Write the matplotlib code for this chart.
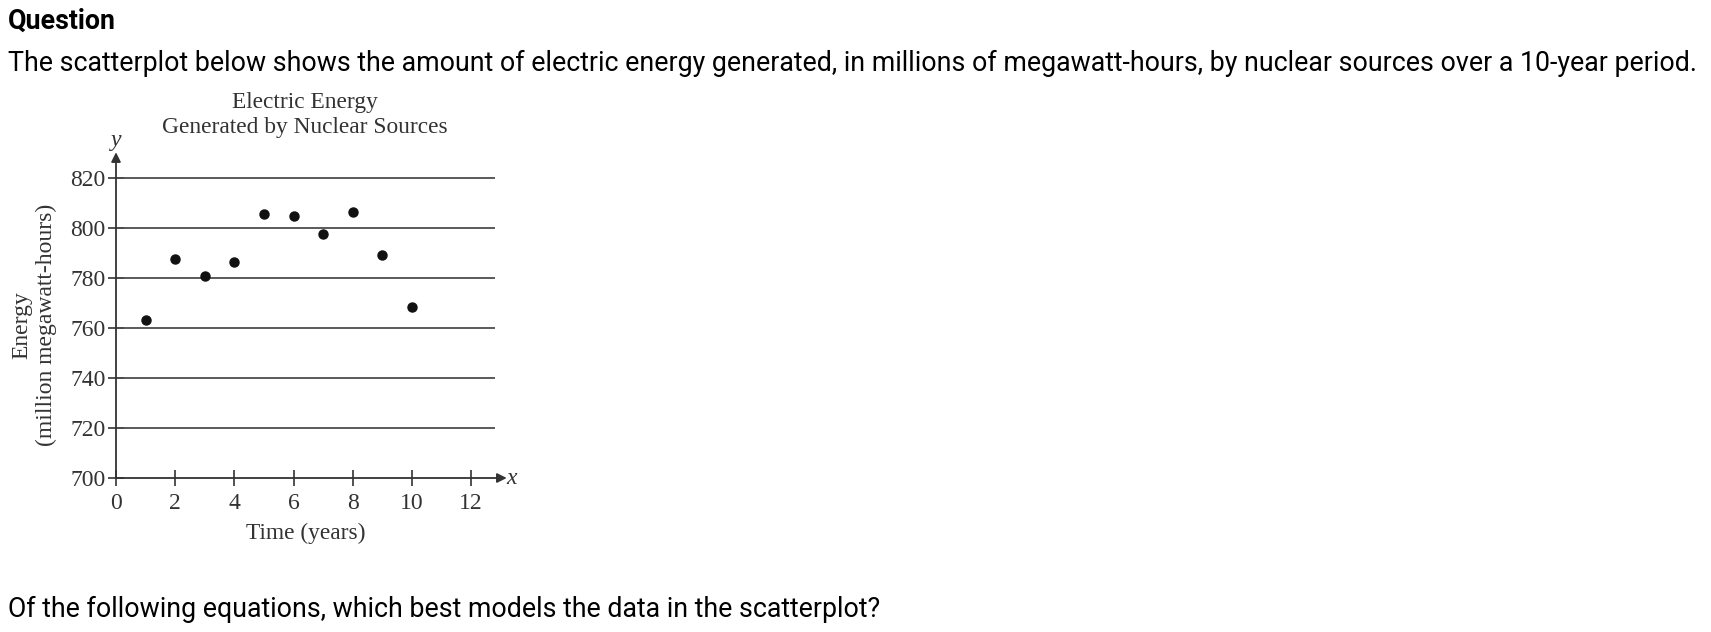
import numpy as np
import matplotlib.pyplot as plt

years = [1, 2, 3, 4, 5, 6, 7, 8, 9, 10]
energy = [763.3, 787.7, 780.9, 786.4, 805.6, 804.9, 797.5, 806.3, 789.1, 768.4]
x_ticks = [0, 2, 4, 6, 8, 10, 12]
y_ticks = [700, 720, 740, 760, 780, 800, 820]

W, H = 1711, 632
fig = plt.figure(figsize=(W / 100, H / 100), dpi=100)


def fx(px):
    return px / W


def fy(py):
    return 1 - py / H


# question text around the chart
fig.text(fx(8), fy(21), "Question", family="Roboto", weight="bold",
         fontsize=19.3, va="center", ha="left", color="black")
fig.text(fx(8), fy(63), "The scatterplot below shows the amount of electric energy generated, "
         "in millions of megawatt-hours, by nuclear sources over a 10-year period.",
         family="Roboto", fontsize=19.3, va="center", ha="left", color="black")
fig.text(fx(8), fy(609), "Of the following equations, which best models the data in the scatterplot?",
         family="Roboto", fontsize=19.3, va="center", ha="left", color="black")

# chart area: x=0 at px 116, 29.6 px per year; y=700 at px 478, 2.5 px per unit
xmax, ymax = 13.4, 832
ax = fig.add_axes([fx(116), fy(478), xmax * 29.6 / W, (ymax - 700) * 2.5 / H])
ax.set_xlim(0, xmax)
ax.set_ylim(700, ymax)
for s in ax.spines.values():
    s.set_visible(False)

serif = "Liberation Serif"
ink = "#333333"

ax.hlines(y_ticks[1:], 0, 12.8, color="#4d4d4d", lw=1.3, clip_on=False)
ax.annotate("", xy=(13.2, 700), xytext=(0, 700), annotation_clip=False,
            arrowprops=dict(arrowstyle="-|>", color=ink, lw=1.3,
                            mutation_scale=14, shrinkA=0, shrinkB=0))
ax.annotate("", xy=(0, 830.3), xytext=(0, 700), annotation_clip=False,
            arrowprops=dict(arrowstyle="-|>", color=ink, lw=1.3,
                            mutation_scale=14, shrinkA=0, shrinkB=0))

ax.plot(years, energy, "o", color="#111111", ms=6.5, clip_on=False)

ax.set_xticks(x_ticks)
ax.set_yticks(y_ticks)
ax.tick_params(direction="inout", length=11, width=1.2, color=ink,
               labelcolor=ink, labelsize=17, pad=2)
ax.tick_params(axis="x", pad=5)
for lab in ax.get_xticklabels() + ax.get_yticklabels():
    lab.set_family(serif)

ax.text(13.35, 700, "x", family=serif, style="italic", fontsize=17,
        color=ink, ha="center", va="center")
ax.text(0, 835, "y", family=serif, style="italic", fontsize=17,
        color=ink, ha="center", va="center")

fig.text(fx(305), fy(115), "Electric Energy\nGenerated by Nuclear Sources",
         family=serif, fontsize=16.8, color=ink, ha="center", va="center",
         linespacing=1.23)
fig.text(fx(306), fy(533), "Time (years)", family=serif, fontsize=16.8,
         color=ink, ha="center", va="center")
fig.text(fx(34), fy(325), "Energy\n(million megawatt-hours)", family=serif,
         fontsize=17, color=ink, ha="center", va="center", rotation=90,
         linespacing=1.2)

fig.savefig("out.png", dpi=100, facecolor="white")
